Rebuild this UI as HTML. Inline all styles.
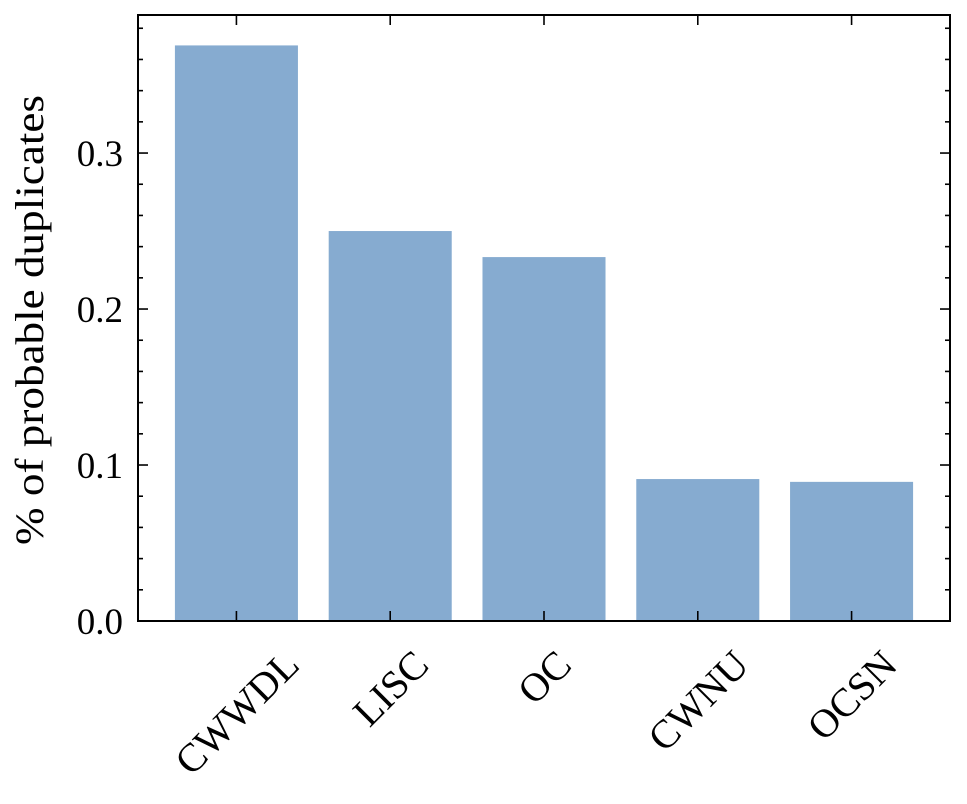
<!DOCTYPE html>
<html><head><meta charset="utf-8"><style>
body{margin:0;background:#fff;}
svg text{font-family:"Liberation Serif","DejaVu Serif",serif;fill:#000;}
</style></head><body>
<svg id="chart" width="967" height="799" viewBox="0 0 967 799" xmlns="http://www.w3.org/2000/svg">
<g id="bars"></g>
<g id="ticks"></g>
<rect x="138" y="15" width="812" height="606" fill="none" stroke="#000" stroke-width="2"/>
<text transform="translate(43,320) rotate(-90)" text-anchor="middle" font-size="40" textLength="450" lengthAdjust="spacingAndGlyphs">% of probable duplicates</text>
</svg>
<script>
const categories = ["CWWDL","LISC","OC","CWNU","OCSN"];
const values = [0.369, 0.250, 0.2333, 0.091, 0.0892];
const yTicks = [0.0, 0.1, 0.2, 0.3];
const yTickLabels = ["0.0","0.1","0.2","0.3"];
const NS="http://www.w3.org/2000/svg";
const L=138,R=950,T=15,B=621;
const xMin=-0.64,xMax=categories.length-1+0.64;
const yMin=0,yMax=0.3885;
const xs=v=>L+(v-xMin)/(xMax-xMin)*(R-L);
const ys=v=>B-(v-yMin)/(yMax-yMin)*(B-T);
function mk(tag,attrs,parent){const e=document.createElementNS(NS,tag);for(const k in attrs)e.setAttribute(k,attrs[k]);parent.appendChild(e);return e;}
const bars=document.getElementById('bars'),ticks=document.getElementById('ticks');
const bw=xs(0.8)-xs(0);
const FS=40;
categories.forEach((c,i)=>{
  const r=mk('rect',{x:xs(i)-bw/2,y:ys(values[i]),width:bw,height:ys(0)-ys(values[i]),fill:'#86abd0'},bars);
  
  
  const x=xs(i);
  const t1=mk('line',{x1:x,x2:x,y1:B,y2:B-10,stroke:'#000','stroke-width':1.6},ticks);
  
  
  const t2=mk('line',{x1:x,x2:x,y1:T,y2:T+10,stroke:'#000','stroke-width':1.6},ticks);
  
  
  const lb=mk('text',{x:0,y:FS*0.35,'text-anchor':'middle','font-size':FS},ticks);
  lb.textContent=c;
  
  
  const w=lb.getComputedTextLength(), h=FS*0.72;
  const half=(w+h)*Math.SQRT1_2/2;
  lb.setAttribute('transform',`translate(${x},${B+26+half}) rotate(-45)`);
});
for(let k=0;k<=19;k++){
  const v=k*0.02; if(v>yMax)break;
  const y=ys(v); const major=k%5===0; const len=major?10:5;
  const a=mk('line',{x1:L,x2:L+len,y1:y,y2:y,stroke:'#000','stroke-width':1.6},ticks);
  
  
  const b=mk('line',{x1:R,x2:R-len,y1:y,y2:y,stroke:'#000','stroke-width':1.6},ticks);
  
  
}
yTicks.forEach((v,i)=>{
  const t=mk('text',{x:L-15,y:ys(v)+13,'text-anchor':'end','font-size':37},ticks);
  t.textContent=yTickLabels[i];
  
  
});
</script>
</body></html>
